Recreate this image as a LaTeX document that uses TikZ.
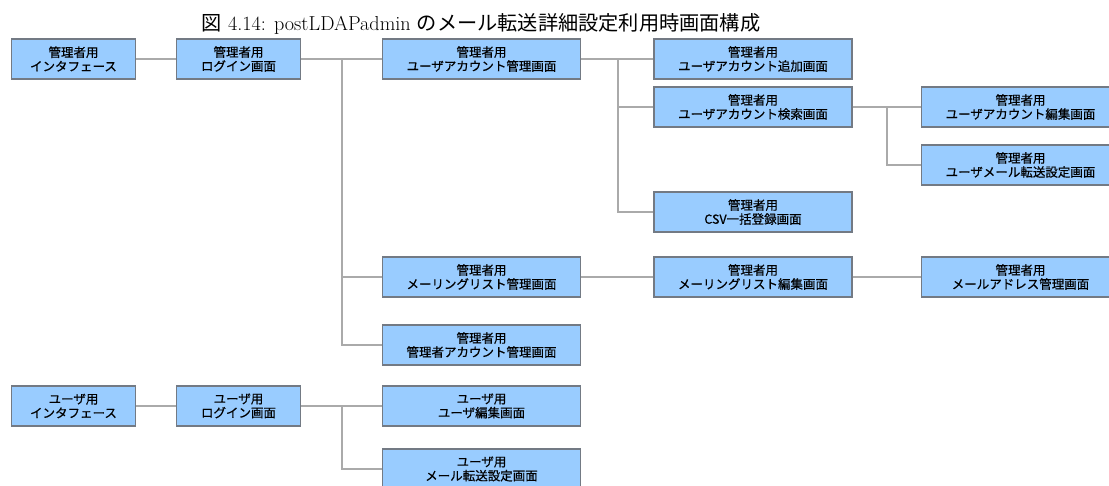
\documentclass[tikz,border=0pt]{standalone}
\usepackage{fontspec}
\newfontfamily\cjk{Noto Sans CJK JP}
\newfontfamily\boxfont[FakeBold=0.6]{Noto Sans CJK JP}
\definecolor{boxfill}{RGB}{153,204,255}
\definecolor{boxline}{RGB}{115,122,132}
\definecolor{connline}{RGB}{170,170,170}
\tikzset{
  scr/.style={draw=boxline, fill=boxfill, line width=1.1pt, minimum height=40pt,
    align=center, inner sep=0pt, font=\boxfont\fontsize{12.5}{14}\selectfont},
  narrow/.style={scr, minimum width=124pt},
  wide/.style={scr, minimum width=198pt},
  conn/.style={draw=connline, line width=1.4pt}
}
\begin{document}
\begin{tikzpicture}[x=1pt,y=-1pt]
\useasboundingbox (0,0) rectangle (1109,486);
\clip (0,0) rectangle (1109,486);
% caption
\node[anchor=base, inner sep=0pt, font=\fontsize{20.2}{22}\selectfont] (cap) at (481,31)
  {{\cjk 図} 4.14: postLDAPadmin {\cjk のメール転送詳細設定利用時画面構成}};
% admin
\node[narrow] (ai) at (73.5,59) {管理者用\\インタフェース};
\node[narrow] (al) at (238.5,59) {管理者用\\ログイン画面};
\node[wide] (uam) at (481.5,59) {管理者用\\ユーザアカウント管理画面};
\node[wide] (uadd) at (753,59) {管理者用\\ユーザアカウント追加画面};
\node[wide] (usrch) at (753,107) {管理者用\\ユーザアカウント検索画面};
\node[wide] (uedit) at (1020.5,107) {管理者用\\ユーザアカウント編集画面};
\node[wide] (umail) at (1020.5,165) {管理者用\\ユーザメール転送設定画面};
\node[wide] (csv) at (753,212) {管理者用\\CSV一括登録画面};
\node[wide] (mlm) at (481.5,277) {管理者用\\メーリングリスト管理画面};
\node[wide] (mle) at (753,277) {管理者用\\メーリングリスト編集画面};
\node[wide] (mam) at (1020.5,277) {管理者用\\メールアドレス管理画面};
\node[wide] (aam) at (481.5,345) {管理者用\\管理者アカウント管理画面};
% user
\node[narrow] (ui) at (73.5,406) {ユーザ用\\インタフェース};
\node[narrow] (ul) at (238.5,406) {ユーザ用\\ログイン画面};
\node[wide] (ue) at (481.5,406) {ユーザ用\\ユーザ編集画面};
\node[wide] (um) at (481.5,469) {ユーザ用\\メール転送設定画面};
% bus coordinates
\coordinate (b1) at (342,59);
\coordinate (b2) at (618,59);
\coordinate (b3) at (887,107);
\coordinate (b4) at (342,406);
% connectors
\draw[conn] (ai) -- (al);
\draw[conn] (al) -- (uam);
\draw[conn] (b1) |- (mlm.west);
\draw[conn] (b1) |- (aam.west);
\draw[conn] (uam) -- (uadd);
\draw[conn] (b2) |- (usrch.west);
\draw[conn] (b2) |- (csv.west);
\draw[conn] (usrch) -- (uedit);
\draw[conn] (b3) |- (umail.west);
\draw[conn] (mlm) -- (mle);
\draw[conn] (mle) -- (mam);
\draw[conn] (ui) -- (ul);
\draw[conn] (ul) -- (ue);
\draw[conn] (b4) |- (um.west);
\end{tikzpicture}
\end{document}
